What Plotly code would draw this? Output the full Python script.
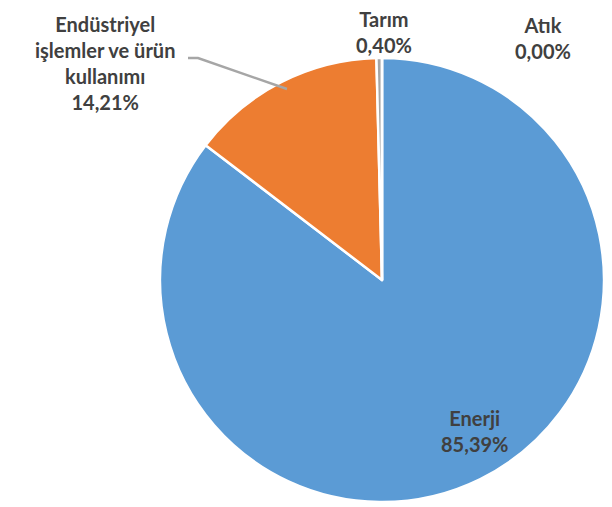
import plotly.graph_objects as go

W, H = 612, 507

labels = ["Enerji", "Endüstriyel işlemler ve ürün kullanımı", "Tarım", "Atık"]
label_text = ["Enerji", "Endüstriyel<br>işlemler ve ürün<br>kullanımı", "Tarım", "Atık"]
values = [85.39, 14.21, 0.40, 0.00]
colors = ["#5b9bd5", "#ed7d31", "#a5a5a5", "#ffc000"]

# label anchor positions in pixels (x, y from top)
label_pos = [(466, 423), (97, 55), (376, 24), (535, 30)]

# domain centre compensated for plotly's rendering offset
cx, cy, r = 374, 272, 222

fig = go.Figure(go.Pie(
    labels=labels,
    values=values,
    sort=False,
    direction="clockwise",
    rotation=0,
    marker=dict(colors=colors, line=dict(color="white", width=2.5)),
    textinfo="none",
    hoverinfo="label+percent",
    showlegend=False,
    domain=dict(x=[(cx - r) / W, (cx + r) / W], y=[(H - cy - r) / H, (H - cy + r) / H]),
))

def fmt(v):
    return f"{v:.2f}".replace(".", ",") + "%"

annotations = []
for lt, v, (px, py) in zip(label_text, values, label_pos):
    annotations.append(dict(
        x=px / W, y=1 - py / H, xref="paper", yref="paper",
        text=f"<b>{lt}<br>{fmt(v)}</b>", showarrow=False,
        xanchor="center", yanchor="middle", align="center",
        font=dict(family="Lato", size=20, color="#404040"),
    ))

fig.update_layout(
    width=W, height=H,
    margin=dict(l=0, r=0, t=0, b=0),
    paper_bgcolor="white", plot_bgcolor="white",
    annotations=annotations,
    shapes=[dict(
        type="path", xref="paper", yref="paper",
        path=f"M {180/W} {1-50/H} L {190/W} {1-50/H} L {279/W} {1-81/H}",
        line=dict(color="#a6a6a6", width=2.5),
    )],
)

fig.write_html("out.html")
